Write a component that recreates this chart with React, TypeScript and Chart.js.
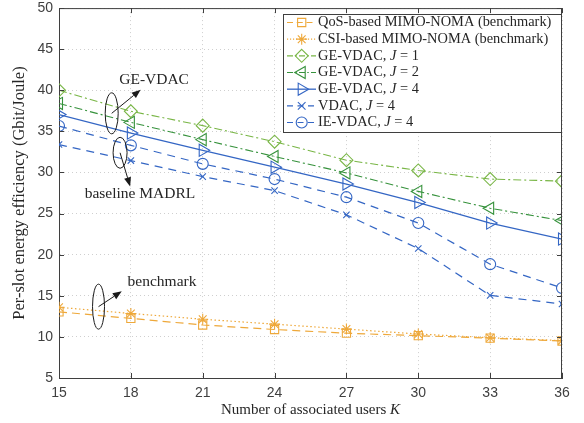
import React, { useEffect, useRef } from "react";
import { Chart, registerables } from "chart.js";

Chart.register(...registerables);

const users = [15, 18, 21, 24, 27, 30, 33, 36];
const qosNoma = [13.05, 12.25, 11.45, 10.9, 10.45, 10.15, 9.85, 9.5];
const csiNoma = [13.6, 12.85, 12.15, 11.55, 10.95, 10.35, 9.9, 9.55];
const geVdacJ1 = [40.0, 37.45, 35.7, 33.75, 31.5, 30.25, 29.2, 28.95];
const geVdacJ2 = [38.4, 36.1, 34.0, 31.95, 29.95, 27.7, 25.65, 24.15];
const geVdacJ4 = [37.05, 34.8, 32.7, 30.65, 28.6, 26.35, 23.85, 21.9];
const vdacJ4 = [33.4, 31.45, 29.5, 27.8, 24.85, 20.75, 15.05, 14.0];
const ieVdacJ4 = [35.65, 33.3, 31.05, 29.2, 27.0, 23.85, 18.85, 15.95];

const xTicks = [15, 18, 21, 24, 27, 30, 33, 36];
const yTicks = [5, 10, 15, 20, 25, 30, 35, 40, 45, 50];

const ORANGE = "#EEA83A";
const LGREEN = "#79B646";
const DGREEN = "#36923C";
const BLUE = "#3466C4";

type SeriesDef = {
  name: string;
  pre: string;
  jval?: string;
  data: number[];
  color: string;
  dash: number[];
  style: string;
  radius: number;
  rotation: number;
  width: number;
};

const series: SeriesDef[] = [
  { name: "QoS-based MIMO-NOMA (benchmark)", pre: "QoS-based MIMO-NOMA (benchmark)", data: qosNoma, color: ORANGE, dash: [8, 5], style: "rect", radius: 5.8, rotation: 0, width: 1.2 },
  { name: "CSI-based MIMO-NOMA (benchmark)", pre: "CSI-based MIMO-NOMA (benchmark)", data: csiNoma, color: ORANGE, dash: [1.5, 2.5], style: "star", radius: 5.5, rotation: 0, width: 1.2 },
  { name: "GE-VDAC, J = 1", pre: "GE-VDAC, ", jval: " = 1", data: geVdacJ1, color: LGREEN, dash: [8, 3, 2, 3], style: "rectRot", radius: 6.5, rotation: 0, width: 1.1 },
  { name: "GE-VDAC, J = 2", pre: "GE-VDAC, ", jval: " = 2", data: geVdacJ2, color: DGREEN, dash: [8, 3, 2, 3], style: "triangle", radius: 7, rotation: -90, width: 1.1 },
  { name: "GE-VDAC, J = 4", pre: "GE-VDAC, ", jval: " = 4", data: geVdacJ4, color: BLUE, dash: [], style: "triangle", radius: 7, rotation: 90, width: 1.3 },
  { name: "VDAC, J = 4", pre: "VDAC, ", jval: " = 4", data: vdacJ4, color: BLUE, dash: [8, 6], style: "crossRot", radius: 4.5, rotation: 0, width: 1.2 },
  { name: "IE-VDAC, J = 4", pre: "IE-VDAC, ", jval: " = 4", data: ieVdacJ4, color: BLUE, dash: [8, 6], style: "circle", radius: 5.5, rotation: 0, width: 1.2 },
];

// annotation anchors in data space
const annGE = { ex: 17.2, ey: 37.2, ax: 18.41, ay: 40.07, tx: 18.97, ty: 41.3, text: "GE-VDAC", rx: 6.5, ry: 20.5 };
const annBase = { ex: 17.55, ey: 32.4, ax: 17.97, ay: 28.3, tx: 18.38, ty: 27.4, text: "baseline MADRL", rx: 7, ry: 15.5 };
const annBench = { ex: 16.65, ey: 13.68, ax: 17.62, ay: 15.55, tx: 19.3, ty: 16.7, text: "benchmark", rx: 6, ry: 22.5 };

const xTitle = "Number of associated users ";
const xTitleVar = "K";
const yTitle = "Per-slot energy efficiency (Gbit/Joule)";

const SERIF = "'Liberation Serif', 'Times New Roman', serif";
const SANS = "'Liberation Sans', Arial, sans-serif";

function drawMarker(ctx: CanvasRenderingContext2D, s: SeriesDef, x: number, y: number) {
  ctx.save();
  ctx.strokeStyle = s.color;
  ctx.lineWidth = 1.1;
  ctx.setLineDash([]);
  ctx.beginPath();
  const r = s.radius;
  if (s.style === "rect") {
    const h = r * Math.SQRT1_2;
    ctx.rect(x - h, y - h, 2 * h, 2 * h);
  } else if (s.style === "star") {
    for (let k = 0; k < 4; k++) {
      const a = (k * Math.PI) / 4;
      ctx.moveTo(x - Math.cos(a) * r, y - Math.sin(a) * r);
      ctx.lineTo(x + Math.cos(a) * r, y + Math.sin(a) * r);
    }
  } else if (s.style === "rectRot") {
    ctx.moveTo(x, y - r);
    ctx.lineTo(x + r, y);
    ctx.lineTo(x, y + r);
    ctx.lineTo(x - r, y);
    ctx.closePath();
  } else if (s.style === "triangle") {
    const base = (s.rotation * Math.PI) / 180 - Math.PI / 2;
    for (let k = 0; k < 3; k++) {
      const a = base + (k * 2 * Math.PI) / 3;
      const px = x + Math.cos(a) * r;
      const py = y + Math.sin(a) * r;
      if (k === 0) ctx.moveTo(px, py);
      else ctx.lineTo(px, py);
    }
    ctx.closePath();
  } else if (s.style === "crossRot") {
    const d = r * Math.SQRT1_2 * 1.2;
    ctx.moveTo(x - d, y - d);
    ctx.lineTo(x + d, y + d);
    ctx.moveTo(x - d, y + d);
    ctx.lineTo(x + d, y - d);
  } else if (s.style === "circle") {
    ctx.arc(x, y, r, 0, Math.PI * 2);
  }
  ctx.stroke();
  ctx.restore();
}

const overlayPlugin = {
  id: "overlay",
  afterDatasetsDraw(chart: any) {
    const ctx: CanvasRenderingContext2D = chart.ctx;
    const xs = chart.scales.x;
    const ys = chart.scales.y;
    const { left, right, top, bottom } = chart.chartArea;

    // box and inward ticks
    ctx.save();
    ctx.strokeStyle = "#3f3f3f";
    ctx.lineWidth = 1;
    ctx.setLineDash([]);
    ctx.beginPath();
    ctx.moveTo(left, top + 0.5);
    ctx.lineTo(right, top + 0.5);
    ctx.moveTo(right - 0.5, top);
    ctx.lineTo(right - 0.5, bottom);
    ctx.stroke();
    ctx.beginPath();
    for (const t of xTicks) {
      const px = Math.round(xs.getPixelForValue(t)) + 0.5;
      ctx.moveTo(px, bottom);
      ctx.lineTo(px, bottom - 5);
      ctx.moveTo(px, top);
      ctx.lineTo(px, top + 5);
    }
    for (const t of yTicks) {
      const py = Math.round(ys.getPixelForValue(t)) + 0.5;
      ctx.moveTo(left, py);
      ctx.lineTo(left + 5, py);
      ctx.moveTo(right, py);
      ctx.lineTo(right - 5, py);
    }
    ctx.stroke();
    ctx.restore();

    // x axis title with italic variable
    ctx.save();
    ctx.fillStyle = "#262626";
    ctx.textBaseline = "middle";
    ctx.textAlign = "left";
    ctx.font = `15px ${SERIF}`;
    const w1 = ctx.measureText(xTitle).width;
    ctx.font = `italic 15px ${SERIF}`;
    const w2 = ctx.measureText(xTitleVar).width;
    const cx = (left + right) / 2;
    const sx = cx - (w1 + w2) / 2;
    const ty0 = bottom + 32;
    ctx.font = `15px ${SERIF}`;
    ctx.fillText(xTitle, sx, ty0);
    ctx.font = `italic 15px ${SERIF}`;
    ctx.fillText(xTitleVar, sx + w1, ty0);
    ctx.restore();

    // annotations
    const anns = [annGE, annBase, annBench];
    for (const a of anns) {
      const ex = xs.getPixelForValue(a.ex);
      const ey = ys.getPixelForValue(a.ey);
      const ax = xs.getPixelForValue(a.ax);
      const ay = ys.getPixelForValue(a.ay);
      const tx = xs.getPixelForValue(a.tx);
      const ty = ys.getPixelForValue(a.ty);
      ctx.save();
      ctx.strokeStyle = "#1a1a1a";
      ctx.fillStyle = "#1a1a1a";
      ctx.lineWidth = 1;
      ctx.setLineDash([]);
      ctx.beginPath();
      ctx.ellipse(ex, ey, a.rx, a.ry, 0, 0, Math.PI * 2);
      ctx.stroke();
      const ang = Math.atan2(ay - ey, ax - ex);
      const hl = 9;
      const hw = 3.5;
      const bx = ax - Math.cos(ang) * hl;
      const by = ay - Math.sin(ang) * hl;
      ctx.beginPath();
      ctx.moveTo(ex, ey);
      ctx.lineTo(bx, by);
      ctx.stroke();
      ctx.beginPath();
      ctx.moveTo(ax, ay);
      ctx.lineTo(bx - Math.sin(ang) * hw, by + Math.cos(ang) * hw);
      ctx.lineTo(bx + Math.sin(ang) * hw, by - Math.cos(ang) * hw);
      ctx.closePath();
      ctx.fill();
      ctx.font = `15.5px ${SERIF}`;
      ctx.fillStyle = "#262626";
      ctx.textAlign = "center";
      ctx.textBaseline = "middle";
      ctx.fillText(a.text, tx, ty);
      ctx.restore();
    }

    // legend
    const bx0 = 283.5;
    const by0 = 14.5;
    const bw = 278;
    const bh = 118;
    const LF = 14.4;
    ctx.save();
    ctx.fillStyle = "#ffffff";
    ctx.fillRect(bx0, by0, bw, bh);
    ctx.strokeStyle = "#3f3f3f";
    ctx.lineWidth = 1;
    ctx.setLineDash([]);
    ctx.strokeRect(bx0, by0, bw, bh);
    series.forEach((s, i) => {
      const cy = 22.5 + i * 16.67;
      ctx.save();
      ctx.strokeStyle = s.color;
      ctx.lineWidth = s.width;
      ctx.setLineDash(s.dash.length ? s.dash.map((d) => d * 0.75) : []);
      ctx.beginPath();
      ctx.moveTo(287, cy);
      ctx.lineTo(316, cy);
      ctx.stroke();
      ctx.restore();
      drawMarker(ctx, s, 301.7, cy);
      ctx.fillStyle = "#262626";
      ctx.textBaseline = "middle";
      ctx.textAlign = "left";
      ctx.font = `${LF}px ${SERIF}`;
      let x = 318;
      ctx.fillText(s.pre, x, cy);
      x += ctx.measureText(s.pre).width;
      if (s.jval) {
        ctx.font = `italic ${LF}px ${SERIF}`;
        ctx.fillText("J", x, cy);
        x += ctx.measureText("J").width;
        ctx.font = `${LF}px ${SERIF}`;
        ctx.fillText(s.jval, x, cy);
      }
    });
    ctx.restore();
  },
};

export default function App() {
  const ref = useRef<HTMLCanvasElement | null>(null);
  useEffect(() => {
    document.body.style.margin = "0";
    const canvas = ref.current;
    if (!canvas) return;
    const chart = new Chart(canvas, {
      type: "line",
      data: {
        labels: users,
        datasets: series.map((s) => ({
          label: s.name,
          data: users.map((u, i) => ({ x: u, y: s.data[i] })),
          borderColor: s.color,
          backgroundColor: "rgba(0,0,0,0)",
          borderWidth: s.width,
          borderDash: s.dash,
          pointStyle: s.style as any,
          pointRadius: s.radius,
          pointRotation: s.rotation,
          pointBorderWidth: 1.1,
          pointBorderColor: s.color,
          pointBackgroundColor: "rgba(0,0,0,0)",
          tension: 0,
          fill: false,
        })),
      },
      options: {
        animation: false,
        responsive: false,
        maintainAspectRatio: false,
        events: [],
        layout: { padding: { top: 7, right: 22, left: 0, bottom: 0 } },
        plugins: {
          legend: { display: false },
          tooltip: { enabled: false },
        },
        scales: {
          x: {
            type: "linear",
            min: 15,
            max: 36,
            afterBuildTicks: (scale: any) => {
              scale.ticks = xTicks.map((v) => ({ value: v }));
            },
            afterFit: (scale: any) => {
              scale.height = 45;
              scale.paddingLeft = 0;
              scale.paddingRight = 0;
            },
            ticks: {
              color: "#3f3f3f",
              font: { family: SANS, size: 14 },
              padding: 7,
              maxRotation: 0,
              autoSkip: false,
            },
            grid: {
              color: "#cfcfcf",
              lineWidth: 1,
              drawTicks: false,
            },
            border: { display: true, color: "#3f3f3f", width: 1, dash: [1, 3] as any },
          },
          y: {
            type: "linear",
            min: 5,
            max: 50,
            afterBuildTicks: (scale: any) => {
              scale.ticks = yTicks.map((v) => ({ value: v }));
            },
            afterFit: (scale: any) => {
              scale.width = 59;
              scale.paddingTop = 0;
              scale.paddingBottom = 0;
            },
            ticks: {
              color: "#3f3f3f",
              font: { family: SANS, size: 14 },
              padding: 6,
              autoSkip: false,
            },
            grid: {
              color: "#cfcfcf",
              lineWidth: 1,
              drawTicks: false,
            },
            border: { display: true, color: "#3f3f3f", width: 1, dash: [1, 3] as any },
            title: {
              display: true,
              text: yTitle,
              color: "#262626",
              font: { family: SERIF, size: 16.5 },
              padding: { top: 10, bottom: 0 },
            },
          },
        },
      },
      plugins: [overlayPlugin],
    } as any);
    return () => chart.destroy();
  }, []);
  return (
    <div style={{ width: 584, height: 423 }}>
      <canvas ref={ref} width={584} height={423} style={{ width: 584, height: 423, display: "block" }} />
    </div>
  );
}
